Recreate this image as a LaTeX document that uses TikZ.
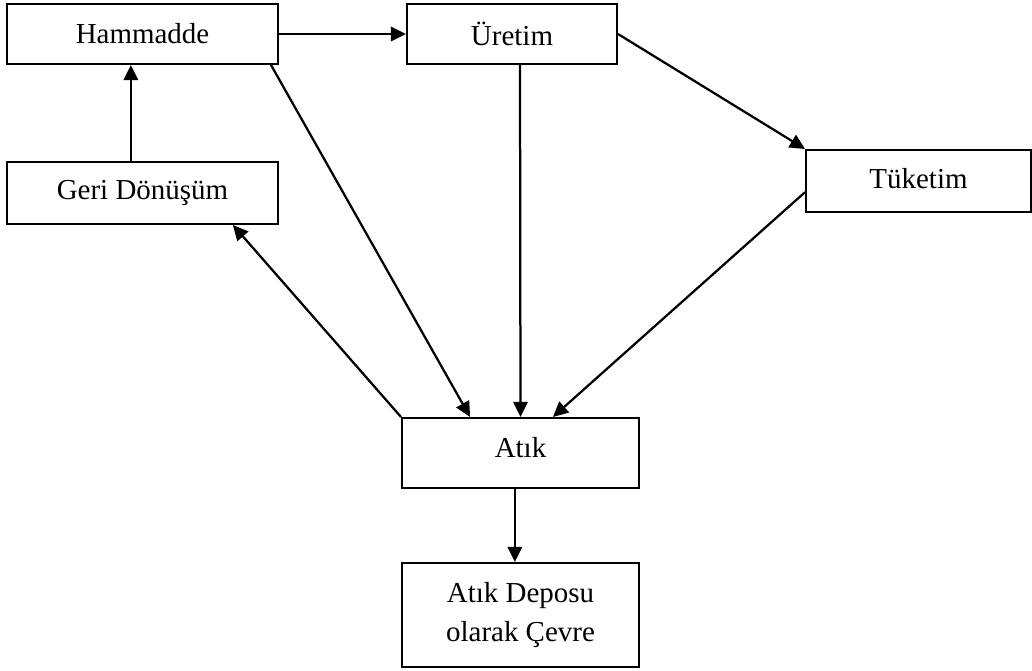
\documentclass[tikz,border=0pt]{standalone}
\usepackage{fontspec}
\setmainfont{Liberation Serif}
\usetikzlibrary{arrows.meta, positioning}

\begin{document}
\begin{tikzpicture}[line width=1.6pt,
    box/.style={draw, rectangle, line width=1.4pt, align=center, font=\fontsize{20.6}{27.7}\selectfont},
    flow/.style={-{Triangle[length=0.38cm, width=0.36cm]}}]
  \useasboundingbox (0,0) rectangle (25.8,16.775);
  % Top row: Hammadde and Uretim
  \node[box, minimum width=6.775cm, minimum height=1.5cm] (ham) at (3.5625,15.925) {Hammadde};
  \node[box, minimum width=5.25cm, minimum height=1.5cm] (uretim) at (12.8,15.925) {Üretim};
  % Recycling box below Hammadde
  \node[box, minimum width=6.775cm, minimum height=1.55cm] (geri) at (3.5625,11.95) {Geri Dönüşüm};
  % Consumption box on the right
  \node[box, minimum width=5.625cm, minimum height=1.55cm, text depth=0.15cm] (tuketim) at (22.9625,12.25) {Tüketim};
  % Waste and its store
  \node[box, minimum width=5.925cm, minimum height=1.75cm, text depth=0.3cm] (atik) at (13.0125,5.45) {Atık};
  \node[box, minimum width=5.925cm, minimum height=2.6cm] (depo) at (13.0125,1.4) {Atık Deposu\\olarak Çevre};
  % Arrows
  \draw[flow] (ham) -- (uretim);
  \draw[flow] ([xshift=-0.29cm]geri.north) -- ([xshift=-0.29cm]ham.south);
  \draw[flow] ([xshift=-0.2cm]ham.south east) -- ([xshift=-1.26cm]atik.north);
  \draw[flow] ([xshift=0.2cm]uretim.south) -- (atik.north);
  \draw[flow] (uretim.east) -- (tuketim.north west);
  \draw[flow] ([yshift=-0.28cm]tuketim.west) -- ([xshift=0.81cm]atik.north);
  \draw[flow] (atik.north west) -- ([xshift=2.26cm]geri.south);
  \draw[flow] ([xshift=-0.14cm]atik.south) -- ([xshift=-0.14cm]depo.north);
\end{tikzpicture}
\end{document}
